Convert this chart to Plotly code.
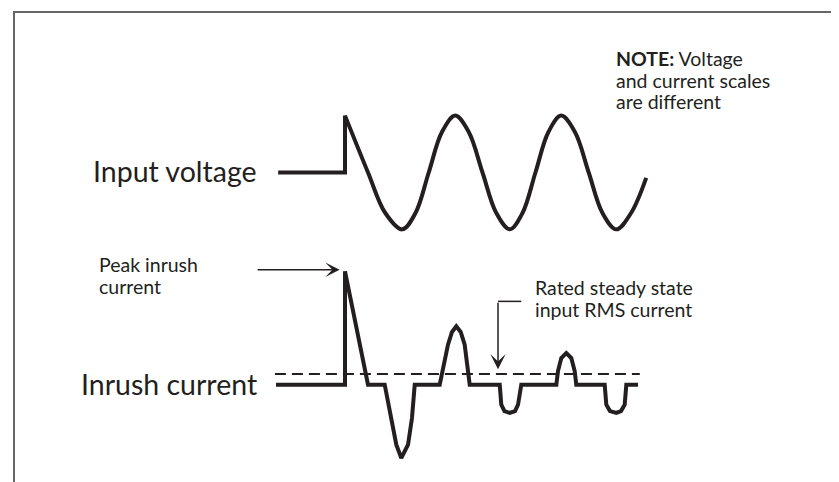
import plotly.graph_objects as go

W, H = 839, 482

# ---------------- data (time in ms, voltage in V, current in A) ----------------
# input voltage: off, then switched on at the crest
volt_step_t = [-12.5, 0.0, 0.0]
volt_step_v = [0, 0, 325]
volt_wave_t = [0.0, 4.3, 7.5, 10.7, 13.2, 15.65, 18.1, 20.6, 23.15, 25.7, 28.25, 30.8,
               33.2, 35.6, 38.0, 40.4, 43.0, 45.55, 48.1, 50.7, 53.5, 56.3]
volt_wave_v = [325, 0, -230, -325, -230, 0, 230, 325, 230, 0, -230, -325,
               -230, 0, 230, 325, 230, 0, -230, -325, -230, -31]

# inrush current
cur_t = [-12.9, 0.0, 0.0, 4.3, 7.42, 8.65, 9.59, 10.52, 11.78, 12.52, 13.03,
         17.70, 19.25, 20.0, 20.80, 21.63, 22.37, 23.31,
         28.92, 29.21, 29.81, 30.79, 31.78, 32.34, 32.95,
         39.50, 39.81, 40.43, 41.36, 42.30, 42.93, 43.23,
         48.54, 48.84, 49.53, 50.71, 51.59, 52.28, 52.58, 54.77]
cur_i = [0, 0, 10.6, 0, 0, -3.11, -5.61, -6.85, -5.61, -3.11, 0,
         0, 3.74, 4.93, 5.46, 4.93, 3.74, 0,
         0, -1.87, -2.46, -2.64, -2.46, -1.87, 0,
         0, 1.28, 2.50, 2.96, 2.50, 1.28, 0,
         0, -1.87, -2.46, -2.64, -2.46, -1.87, 0, 0]

# rated steady state RMS current (dashed reference)
rms_t = [-13.1, 55.1]
rms_i = [1.0, 1.0]

peak_t = 0.0
peak_i = 10.6

# ---------------- figure ----------------
INK = "#231f20"
FONT = "Lato"

fig = go.Figure()
fig.add_trace(go.Scatter(x=volt_step_t, y=volt_step_v, mode="lines",
                         line=dict(color=INK, width=4), yaxis="y", hoverinfo="skip"))
fig.add_trace(go.Scatter(x=volt_wave_t, y=volt_wave_v, mode="lines",
                         line=dict(color=INK, width=4, shape="spline", smoothing=1.0),
                         yaxis="y", hoverinfo="skip"))
fig.add_trace(go.Scatter(x=rms_t, y=rms_i, mode="lines",
                         line=dict(color=INK, width=2, dash="11px,6px"),
                         yaxis="y2", hoverinfo="skip"))
fig.add_trace(go.Scatter(x=cur_t, y=cur_i, mode="lines",
                         line=dict(color=INK, width=4), yaxis="y2", hoverinfo="skip"))


def px(x):
    return x / W


def py(y):
    return 1 - y / H


def txt(s, x, y, size, anchor="left"):
    return dict(text=s, x=px(x), y=py(y), xref="paper", yref="paper",
                xanchor=anchor, yanchor="middle", showarrow=False,
                font=dict(family=FONT, size=size, color=INK))


annotations = [
    txt("Input voltage", 251, 163, 28.5, "right"),
    txt("Inrush current", 251, 376, 28.5, "right"),
    txt("<b>NOTE:</b> Voltage", 606, 51, 19.5),
    txt("and current scales", 606, 72.5, 19.5),
    txt("are different", 606, 94, 19.5),
    txt("Peak inrush", 89, 256.5, 19.5),
    txt("current", 89, 278.5, 19.5),
    txt("Rated steady state", 525, 279.5, 19.5),
    txt("input RMS current", 525, 301.5, 19.5),
    # arrows
    dict(x=peak_t - 1.0, y=peak_i + 0.15, xref="x", yref="y2",
         ax=-16.6, ay=peak_i + 0.15, axref="x", ayref="y2",
         showarrow=True, arrowhead=3, arrowsize=1.6, arrowwidth=1.5,
         arrowcolor=INK, text=""),
    dict(x=28.6, y=rms_i[0] + 0.45, xref="x", yref="y2",
         ax=28.6, ay=7.79, axref="x", ayref="y2",
         showarrow=True, arrowhead=3, arrowsize=1.7, arrowwidth=1.5,
         arrowcolor=INK, text=""),
]

shapes = [
    dict(type="line", xref="x", yref="y2", x0=28.6, x1=32.95, y0=7.79, y1=7.79,
         line=dict(color=INK, width=1.5)),
    # frame
    dict(type="line", xref="paper", yref="paper", x0=px(5), x1=1.0, y0=py(4), y1=py(4),
         line=dict(color="#666666", width=2)),
    dict(type="line", xref="paper", yref="paper", x0=px(6), x1=px(6), y0=py(4), y1=0,
         line=dict(color="#666666", width=2)),
]

fig.update_layout(
    width=W, height=H,
    margin=dict(l=0, r=0, t=0, b=0, pad=0),
    paper_bgcolor="white", plot_bgcolor="white",
    showlegend=False,
    xaxis=dict(range=[-62.99, 93.83], visible=False, fixedrange=True),
    yaxis=dict(range=[-1814.3, 940.0], visible=False, fixedrange=True),
    yaxis2=dict(range=[-9.84, 35.21], visible=False, overlaying="y", fixedrange=True),
    annotations=annotations,
    shapes=shapes,
)

fig.write_html("out.html")
